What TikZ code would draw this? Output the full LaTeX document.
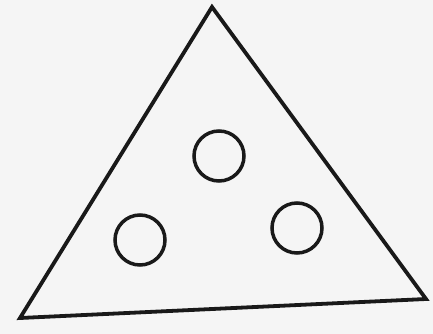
\documentclass[tikz,border=0pt]{standalone}
\begin{document}
\begin{tikzpicture}[x=1pt,y=-1pt,
  outline/.style={draw=black!90, line width=3.8pt, line join=miter},
  hole/.style={draw=black!90, line width=3.5pt}]
\fill[black!4] (0,0) rectangle (433,334);
\useasboundingbox (0,0) rectangle (433,334);
\coordinate (A) at (212,7);
\coordinate (B) at (20,318);
\coordinate (C) at (426,299);
\draw[outline] (A) -- (B) -- (C) -- cycle;
\draw[hole] (219,156) circle (25);
\draw[hole] (140,240) circle (25);
\draw[hole] (297,228) circle (25);
\end{tikzpicture}
\end{document}
